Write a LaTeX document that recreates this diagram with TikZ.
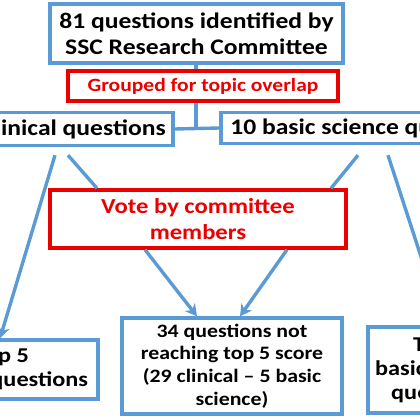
\documentclass[tikz,border=0pt]{standalone}
\usepackage{fontspec}
\setmainfont{Carlito}[FakeStretch=1.15]
\usetikzlibrary{arrows.meta,calc,positioning}
\definecolor{flowblue}{RGB}{91,155,213}
\definecolor{flowred}{RGB}{235,0,0}

\begin{document}
\begin{tikzpicture}[x=0.03cm,y=-0.03cm,>=Stealth,
  bluebox/.style={draw=flowblue,line width=2.9pt,fill=white,align=center,inner sep=0pt,font=\fontsize{19}{22.5}\selectfont\bfseries},
  redbox/.style={draw=flowred,line width=2.9pt,fill=white,text=flowred,align=center,inner sep=0pt,font=\fontsize{18.3}{22.5}\selectfont\bfseries},
  conn/.style={draw=flowblue,line width=2.9pt},
  arr/.style={conn,-{Stealth[length=10pt,width=11pt]}}]
\useasboundingbox (0,0) rectangle (420,420);
\clip (0,0) rectangle (420,420);
% first stage
\node[bluebox,minimum width=8.79cm,minimum height=1.77cm] (all) at (196.5,33.5) {81 questions identified by\\SSC Research Committee};
\node[redbox,minimum width=8.1cm,minimum height=0.9cm,font=\fontsize{16}{19}\selectfont\bfseries] (group) at (203,86) {Grouped for topic overlap};
% split in two
\node[bluebox,minimum width=6.84cm,minimum height=0.99cm] (clin) at (59,129) {71 clinical questions};
\node[bluebox,minimum width=8.88cm,minimum height=0.93cm] (basic) at (369,128) {10 basic science questions};
\draw[conn] (all.south -| 196,0) -- (group.north -| 196,0);
\draw[conn] (group.south -| 196,0) -- (196,129);
\draw[conn] (clin.east) -- (basic.west);
% voting
\node[redbox,minimum width=8.88cm,minimum height=1.74cm] (vote) at (198,219) {Vote by committee\\members};
% results
\node[bluebox,minimum width=5.76cm,minimum height=1.77cm,font=\fontsize{18}{20.5}\selectfont\bfseries] (topclin) at (2,369.5) {Top 5\\clinical questions};
\node[bluebox,minimum width=6.6cm,minimum height=2.88cm,font=\fontsize{16.2}{19.3}\selectfont\bfseries] (rest) at (232,366) {34 questions not\\reaching top 5 score\\(29 clinical -- 5 basic\\science)};
\node[bluebox,minimum width=4.32cm,minimum height=2.58cm,font=\fontsize{18}{20.5}\selectfont\bfseries] (topbasic) at (440,370) {Top 5\\basic science\\questions};
% connectors
\draw[arr] ([xshift=-0.12cm,yshift=-0.24cm]clin.south) -- ([xshift=-0.06cm]topclin.north);
\draw[conn] ([xshift=0.27cm,yshift=-0.24cm]clin.south) -- ([xshift=-3.03cm]vote.north);
\draw[conn] ([xshift=-0.33cm,yshift=-0.3cm]basic.south) -- ([xshift=3.99cm]vote.north);
\draw[arr] ([xshift=0.57cm,yshift=-0.3cm]basic.south) -- ([xshift=0.1cm]topbasic.north);
\draw[arr] ([xshift=-1.59cm]vote.south) -- ([xshift=-1.05cm]rest.north);
\draw[arr] ([xshift=2.67cm]vote.south) -- ([xshift=0.24cm]rest.north);
\end{tikzpicture}
\end{document}
